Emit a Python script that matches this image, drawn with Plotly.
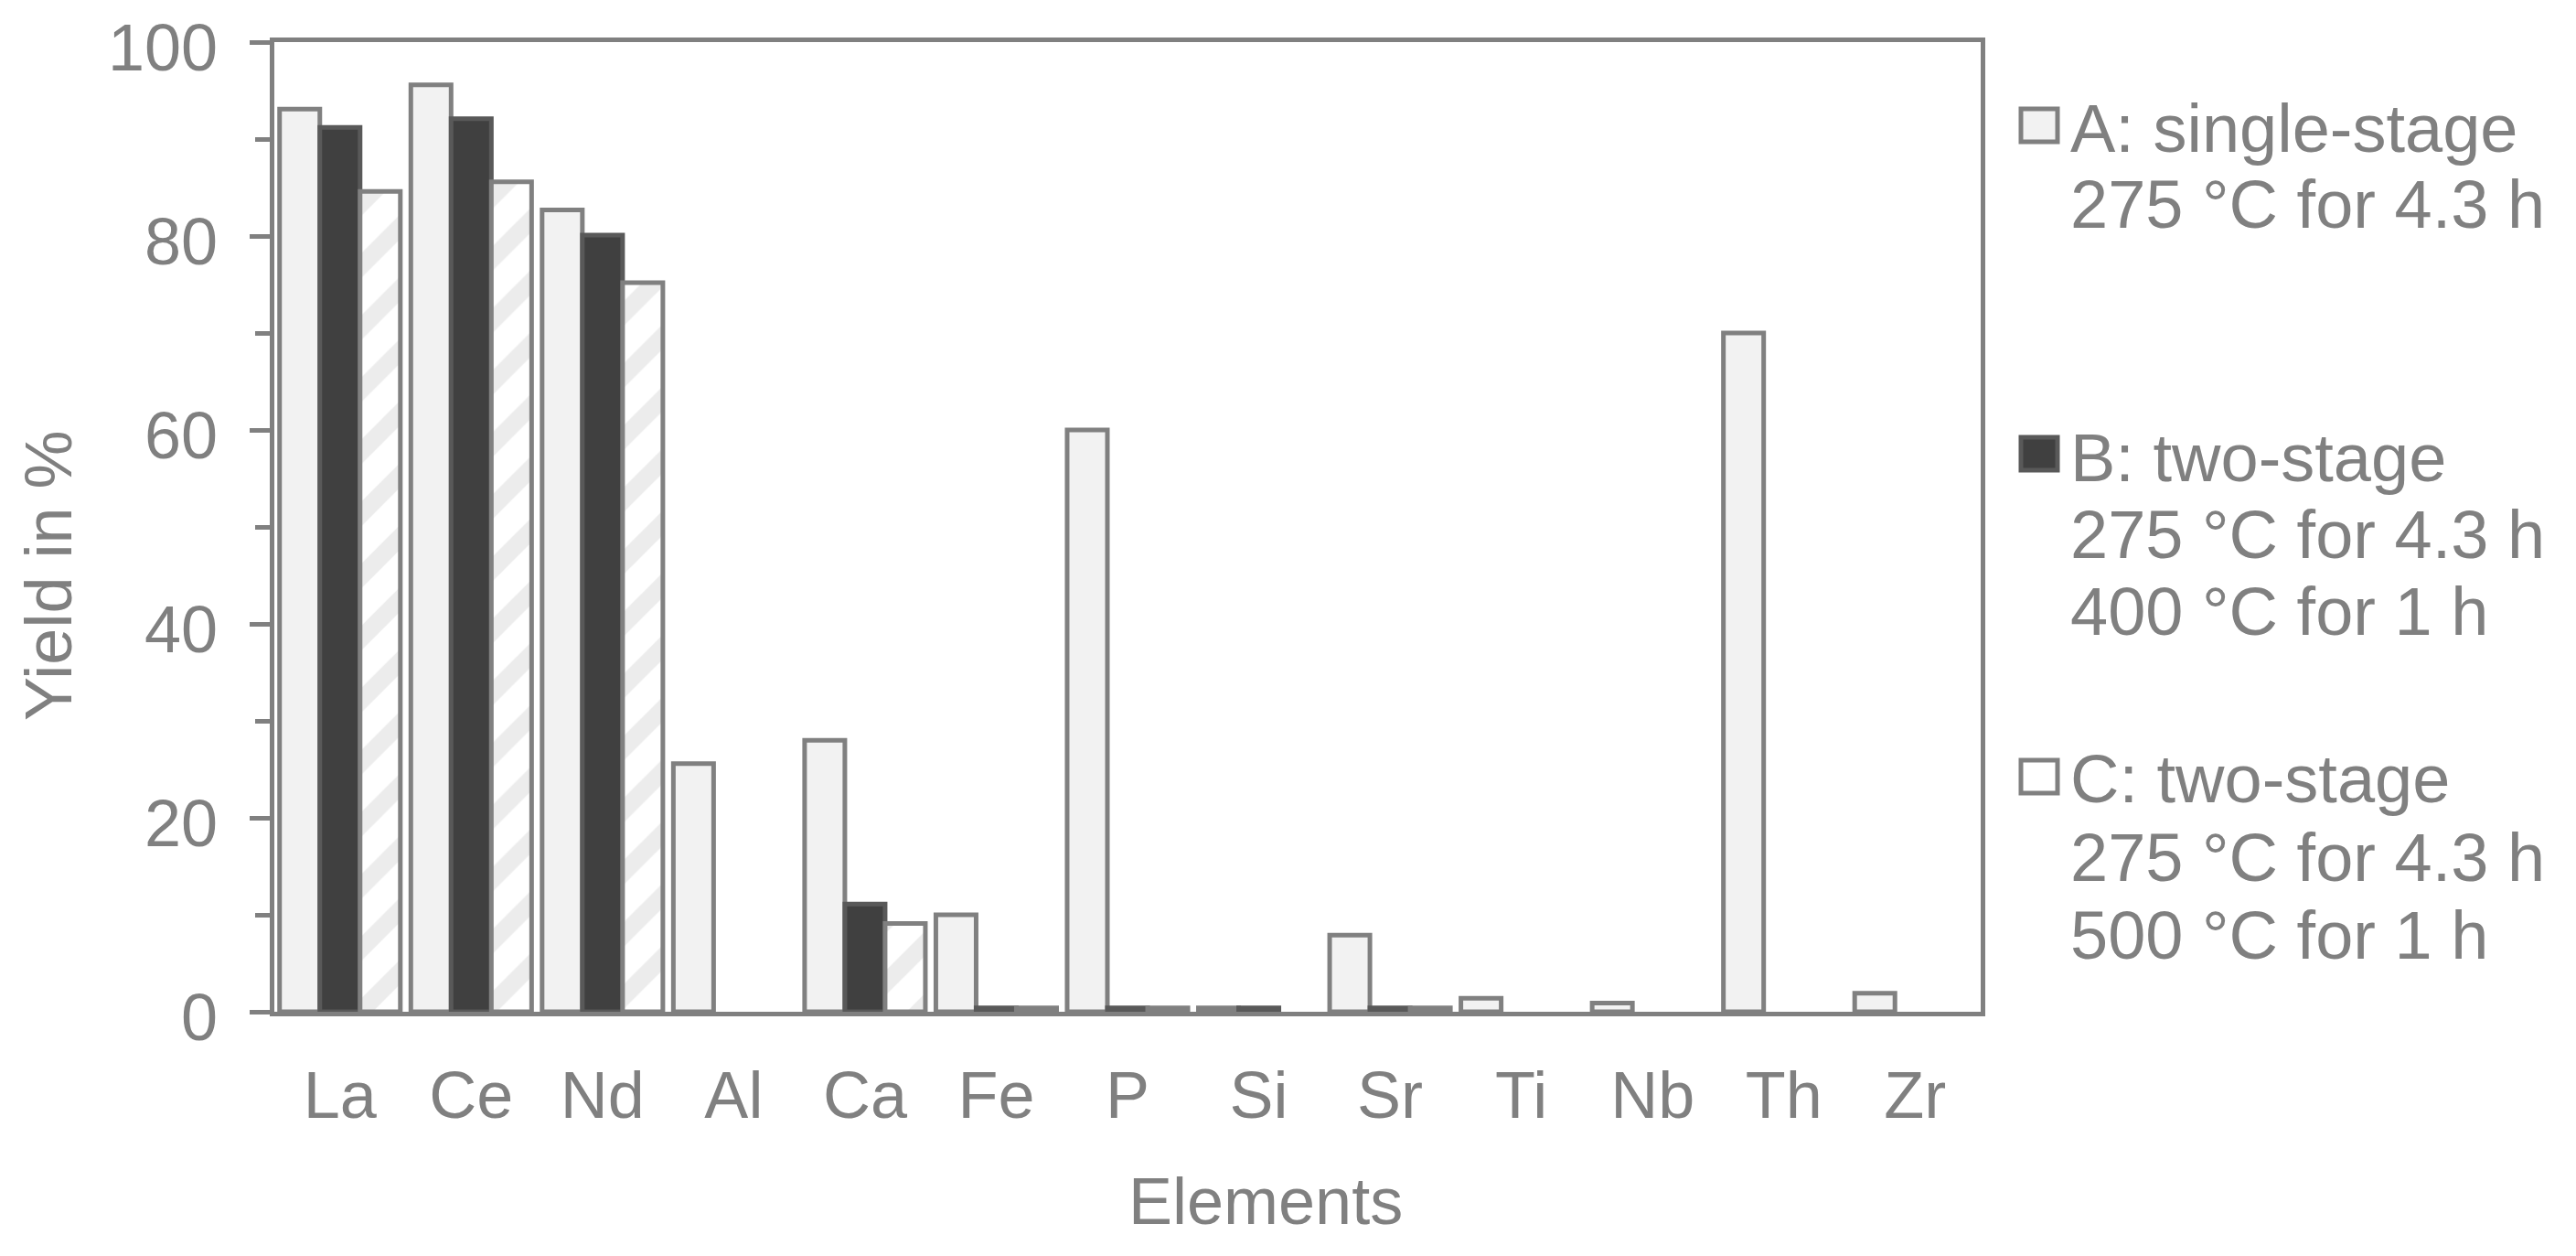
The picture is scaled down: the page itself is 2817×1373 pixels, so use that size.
import plotly.graph_objects as go

# data
elements = ["La", "Ce", "Nd", "Al", "Ca", "Fe", "P", "Si", "Sr", "Ti", "Nb", "Th", "Zr"]
yield_a = [93.1, 95.6, 82.7, 25.6, 28.0, 10.0, 60.0, 0.4, 7.9, 1.4, 0.9, 70.0, 1.9]
yield_b = [91.2, 92.1, 80.1, None, 11.1, 0.4, 0.4, 0.4, 0.4, None, None, None, None]
yield_c = [84.6, 85.6, 75.2, None, 9.1, 0.4, 0.4, None, 0.4, None, None, None, None]
y_ticks = [0, 20, 40, 60, 80, 100]

legend_lines = {
    "A": ["A: single-stage", "275 °C for 4.3 h"],
    "B": ["B: two-stage", "275 °C for 4.3 h", "400 °C for 1 h"],
    "C": ["C: two-stage", "275 °C for 4.3 h", "500 °C for 1 h"],
}

GREY = "#808080"
FONT = "Liberation Sans, Arial, sans-serif"
W, H = 2817, 1373
L, R, T, B = 292, 659, 38, 275
PW, PH = W - L - R, H - T - B
OFF = 8  # page body margin


def px(x):
    # page pixel -> paper coordinate
    return (x - OFF - L) / PW


def py(y):
    return (H - B - (y - OFF)) / PH


fig = go.Figure()
fig.add_trace(go.Bar(x=elements, y=yield_a, name="A",
                     marker=dict(color="#f2f2f2", line=dict(color=GREY, width=5))))
fig.add_trace(go.Bar(x=elements, y=yield_b, name="B",
                     marker=dict(color="#404040", line=dict(color="#595959", width=5))))
fig.add_trace(go.Bar(x=elements, y=yield_c, name="C",
                     marker=dict(color="white", line=dict(color=GREY, width=5),
                                 pattern=dict(shape="/", fgcolor="#d9d9d9", bgcolor="white",
                                              size=48, solidity=0.4))))

fig.update_layout(
    width=W, height=H,
    margin=dict(l=L, r=R, t=T, b=B),
    paper_bgcolor="white", plot_bgcolor="white",
    barmode="group", bargap=0.08, bargroupgap=0,
    showlegend=False,
    font=dict(family=FONT, size=72, color=GREY),
)
fig.update_xaxes(
    range=[-0.5, 12.5], showline=True, mirror=True, linewidth=5, linecolor=GREY,
    ticks="", showgrid=False, ticklabelstandoff=25, automargin=False,
    tickfont=dict(size=72, color=GREY),
)
fig.update_yaxes(
    range=[0, 100], tickvals=y_ticks, showticklabels=False,
    showline=True, mirror=True, linewidth=5, linecolor=GREY,
    ticks="outside", ticklen=22, tickwidth=5, tickcolor=GREY,
    minor=dict(dtick=10, ticks="outside", ticklen=16, tickwidth=5, tickcolor=GREY),
    showgrid=False, zeroline=False, automargin=False,
)

# y tick labels sit a little below their ticks, as in the reference
for v in y_ticks:
    fig.add_annotation(text=str(v), xref="paper", yref="y", x=px(240), y=v, yshift=-6,
                       showarrow=False, xanchor="right", yanchor="middle",
                       font=dict(size=72, color=GREY))

# axis titles
fig.add_annotation(text="Yield in %", xref="paper", yref="paper", x=px(53), y=py(629),
                   textangle=-90, showarrow=False, xanchor="center", yanchor="middle",
                   font=dict(size=72, color=GREY))
fig.add_annotation(text="Elements", xref="paper", yref="paper", x=px(1384), y=py(1313),
                   showarrow=False, xanchor="center", yanchor="middle",
                   font=dict(size=72, color=GREY))

# legend drawn by hand so the symbols can be large
symbols = {
    "A": dict(fill="#f2f2f2", line=GREY, y=137),
    "B": dict(fill="#404040", line="#595959", y=496),
    "C": dict(fill="white", line=GREY, y=849),
}
line_y = {"A": [140, 224], "B": [500, 584, 668], "C": [851, 937, 1022]}
for key, sym in symbols.items():
    fig.add_shape(type="rect", xref="paper", yref="paper",
                  x0=px(2210), x1=px(2250), y0=py(sym["y"] - 18), y1=py(sym["y"] + 18),
                  fillcolor=sym["fill"], line=dict(color=sym["line"], width=5))
    for text, yy in zip(legend_lines[key], line_y[key]):
        fig.add_annotation(text=text, xref="paper", yref="paper", x=px(2262), y=py(yy),
                           showarrow=False, xanchor="left", yanchor="middle",
                           font=dict(size=74, color=GREY))

fig.write_html("out.html")
